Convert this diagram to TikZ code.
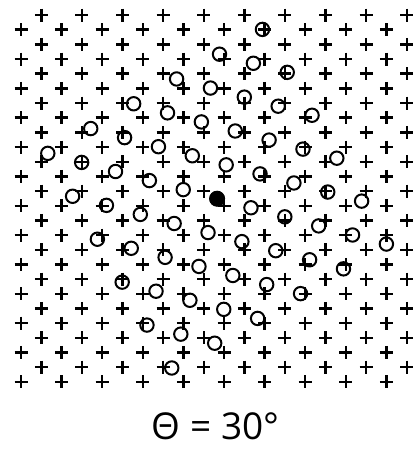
\documentclass[tikz,border=0pt]{standalone}
\usepackage{fontspec}
\setmainfont{Open Sans}
\begin{document}
\begin{tikzpicture}[x=1pt,y=-1pt,
  plusmark/.style={line width=2.4pt, black},
  ring/.style={line width=2pt, black},
  centerdot/.style={fill=black},
  caption/.style={font=\fontsize{37}{42}\selectfont, anchor=base, inner sep=0pt}]
\useasboundingbox (0,0) rectangle (420,450);
% lattice of plus marks (reference lattice)
\foreach \j in {0,...,25}{
  \foreach \k in {0,...,19}{
    \pgfmathtruncatemacro\myparity{mod(\k+\j,2)}
    \ifnum\myparity=1
      \draw[plusmark] ({21+20.3*\k-6.5},{15+14.67*\j}) -- ++(13,0)
                      ({21+20.3*\k},{15+14.67*\j-6.5}) -- ++(0,13);
    \fi
  }
}
% rotated lattice of rings inside the diamond |a|+|b|<=5
\foreach \a in {-5,...,5}{
  \foreach \b in {-5,...,5}{
    \pgfmathtruncatemacro\mydist{abs(\a)+abs(\b)}
    \ifnum\mydist<6
      \draw[ring] ({217.1+33.86*\a+9.07*\b},{198.7+9.07*\a-33.86*\b}) circle[radius=6.7];
    \fi
  }
}
\fill[centerdot] (217.1,198.7) circle[radius=8];
\node[caption] (label) at (215.5,439) {Θ = 30°};
\end{tikzpicture}
\end{document}
